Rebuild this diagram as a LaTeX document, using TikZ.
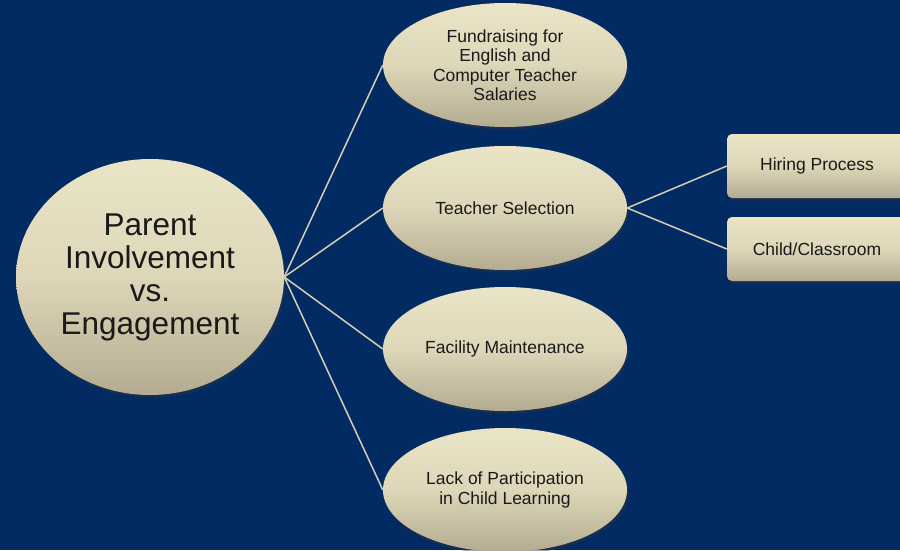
\documentclass[tikz,border=0pt]{standalone}
\usepackage{fontspec}
\setmainfont{Liberation Sans}
\usetikzlibrary{shapes.geometric,shadows}

\definecolor{navy}{HTML}{032B63}
\definecolor{tanTop}{HTML}{EBE5C7}
\definecolor{tanMid}{HTML}{DDD6B8}
\definecolor{tanBot}{HTML}{B3AC91}
\definecolor{linkTan}{HTML}{D5CFB2}

\tikzset{
  softshadow/.style={drop shadow={shadow xshift=1.5pt, shadow yshift=-2.5pt, opacity=0.45, fill=black!80}},
  bubble/.style={ellipse, draw=none, top color=tanTop, bottom color=tanBot, middle color=tanMid,
                 softshadow, align=center, inner sep=0pt, text=black!90,
                 font=\fontsize{17.5}{19.5}\selectfont},
  leaf/.style={bubble, minimum width=244pt, minimum height=124pt},
  rootnode/.style={bubble, minimum width=268pt, minimum height=236pt,
                   font=\fontsize{31.5}{33}\selectfont},
  tag/.style={rectangle, rounded corners=5pt, draw=none, top color=tanTop, bottom color=tanBot,
              middle color=tanMid, softshadow, inner sep=0pt, minimum width=180pt,
              minimum height=64pt, text=black!90, font=\fontsize{17.5}{19.5}\selectfont},
  link/.style={draw=linkTan, line width=1.5pt}
}

\begin{document}
\begin{tikzpicture}[x=1pt, y=-1pt]
  \useasboundingbox (0,0) rectangle (900,550);
  \clip (0,0) rectangle (900,550);
  \fill[navy] (0,0) rectangle (900,550);

  % central topic and its four themes
  \node[rootnode] (root) at (150,277) {Parent\\Involvement\\vs.\\Engagement};
  \node[leaf] (fund) at (505,65) {Fundraising for\\English and\\Computer Teacher\\Salaries};
  \node[leaf] (sel) at (505,208) {Teacher Selection};
  \node[leaf] (fac) at (505,349) {Facility Maintenance};
  \node[leaf] (lack) at (505,490) {Lack of Participation\\in Child Learning};

  % sub-items of teacher selection
  \node[tag] (hire) at (817,166) {Hiring Process};
  \node[tag] (child) at (817,249) {Child/Classroom};

  % connectors
  \draw[link] (root.east) -- (fund.west);
  \draw[link] (root.east) -- (sel.west);
  \draw[link] (root.east) -- (fac.west);
  \draw[link] (root.east) -- (lack.west);
  \draw[link] (sel.east) -- (hire.west);
  \draw[link] (sel.east) -- (child.west);
\end{tikzpicture}
\end{document}
